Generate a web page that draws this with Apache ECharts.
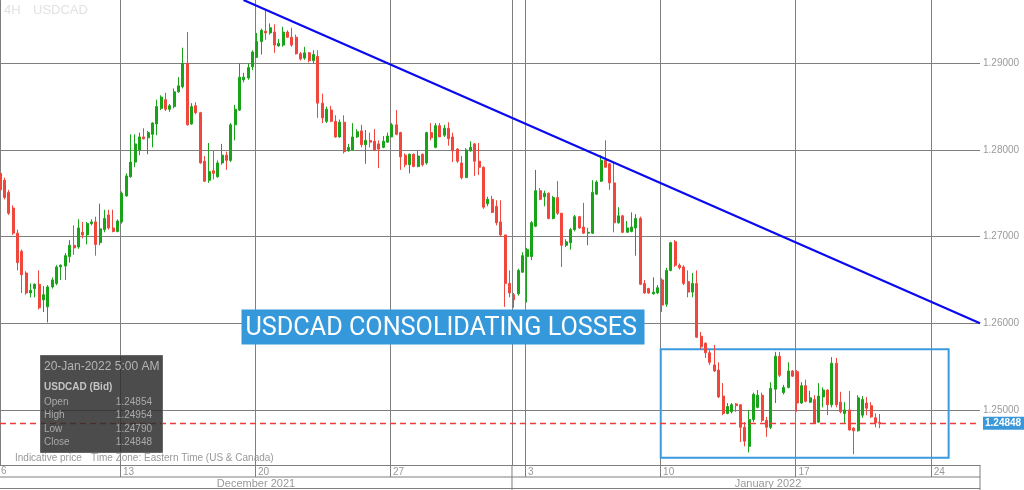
<!DOCTYPE html>
<html><head><meta charset="utf-8">
<script src="https://cdn.jsdelivr.net/npm/echarts@6/dist/echarts.min.js"></script>
<style>html,body{margin:0;padding:0;background:#fff}#c{width:1024px;height:490px}</style>
</head><body><div id="c"></div><script>
// 4H USDCAD candles (bid)
const opens = [1.2773,1.2765,1.2751,1.2733,1.2704,1.2683,1.2658,1.2635,1.2640,1.2645,
1.2627,1.2619,1.2642,1.2646,1.2665,1.2666,1.2677,1.2690,1.2688,1.2705,
1.2702,1.2715,1.2717,1.2693,1.2708,1.2725,1.2710,1.2706,1.2717,1.2747,
1.2769,1.2786,1.2800,1.2815,1.2814,1.2818,1.2830,1.2848,1.2858,1.2847,
1.2850,1.2867,1.2873,1.2900,1.2830,1.2851,1.2843,1.2787,1.2765,1.2776,
1.2769,1.2785,1.2794,1.2788,1.2829,1.2846,1.2881,1.2883,1.2896,1.2907,
1.2925,1.2937,1.2935,1.2936,1.2920,1.2921,1.2936,1.2930,1.2930,1.2911,
1.2906,1.2912,1.2903,1.2908,1.2854,1.2833,1.2846,1.2833,1.2815,1.2832,
1.2799,1.2800,1.2815,1.2822,1.2806,1.2811,1.2810,1.2807,1.2803,1.2809,
1.2815,1.2829,1.2820,1.2794,1.2783,1.2795,1.2781,1.2795,1.2785,1.2820,
1.2803,1.2828,1.2817,1.2825,1.2815,1.2801,1.2785,1.2768,1.2799,1.2807,
1.2787,1.2780,1.2738,1.2743,1.2735,1.2717,1.2702,1.2646,1.2633,1.2634,
1.2659,1.2677,1.2677,1.2712,1.2753,1.2746,1.2750,1.2721,1.2745,1.2727,
1.2690,1.2693,1.2708,1.2723,1.2711,1.2704,1.2704,1.2749,1.2764,1.2788,
1.2784,1.2762,1.2716,1.2724,1.2705,1.2706,1.2710,1.2721,1.2646,1.2640,
1.2634,1.2635,1.2650,1.2622,1.2661,1.2694,1.2667,1.2665,1.2648,1.2636,
1.2646,1.2585,1.2577,1.2566,1.2552,1.2546,1.2516,1.2496,1.2498,1.2507,
1.2506,1.2480,1.2458,1.2489,1.2503,1.2517,1.2488,1.2480,1.2524,1.2562,
1.2520,1.2526,1.2545,1.2544,1.2508,1.2528,1.2509,1.2512,1.2486,1.2515,
1.2523,1.2506,1.2554,1.2509,1.2496,1.2500,1.2479,1.2476,1.2494,1.2508,
1.2505,1.2491,1.24854];
const closes = [1.2754,1.2745,1.2727,1.2704,1.2670,1.2656,1.2635,1.2638,1.2645,1.2618,
1.2633,1.2642,1.2650,1.2665,1.2667,1.2678,1.2690,1.2687,1.2710,1.2702,
1.2715,1.2717,1.2691,1.2709,1.2721,1.2710,1.2706,1.2718,1.2750,1.2770,
1.2786,1.2807,1.2815,1.2813,1.2820,1.2831,1.2850,1.2861,1.2847,1.2851,
1.2867,1.2874,1.2900,1.2829,1.2850,1.2843,1.2785,1.2764,1.2775,1.2773,
1.2785,1.2794,1.2788,1.2829,1.2847,1.2884,1.2884,1.2895,1.2913,1.2925,
1.2938,1.2935,1.2941,1.2921,1.2923,1.2936,1.2930,1.2921,1.2911,1.2905,
1.2912,1.2903,1.2910,1.2854,1.2837,1.2847,1.2833,1.2815,1.2832,1.2798,
1.2803,1.2815,1.2821,1.2806,1.2811,1.2809,1.2800,1.2801,1.2810,1.2816,
1.2829,1.2818,1.2792,1.2783,1.2795,1.2781,1.2793,1.2783,1.2820,1.2814,
1.2828,1.2815,1.2825,1.2813,1.2799,1.2787,1.2768,1.2800,1.2803,1.2787,
1.2780,1.2734,1.2743,1.2728,1.2716,1.2702,1.2646,1.2635,1.2627,1.2661,
1.2678,1.2685,1.2716,1.2753,1.2743,1.2750,1.2721,1.2745,1.2727,1.2690,
1.2694,1.2708,1.2723,1.2710,1.2704,1.2705,1.2751,1.2763,1.2788,1.2780,
1.2762,1.2716,1.2724,1.2705,1.2710,1.2711,1.2721,1.2645,1.2635,1.2635,
1.2636,1.2641,1.2621,1.2661,1.2693,1.2667,1.2664,1.2646,1.2636,1.2646,
1.2584,1.2573,1.2566,1.2555,1.2545,1.2515,1.2496,1.2504,1.2506,1.2505,
1.2480,1.2464,1.2489,1.2518,1.2517,1.2488,1.2480,1.2525,1.2562,1.2540,
1.2526,1.2545,1.2539,1.2508,1.2528,1.2510,1.2514,1.2485,1.2516,1.2523,
1.2506,1.2554,1.2506,1.2498,1.2500,1.2477,1.2476,1.2514,1.2512,1.2502,
1.2492,1.2485,1.24848];
const lows = [1.2751,1.2743,1.2725,1.2702,1.2661,1.2635,1.2633,1.2630,1.2630,1.2616,
1.2613,1.2601,1.2640,1.2644,1.2650,1.2650,1.2670,1.2679,1.2686,1.2698,
1.2691,1.2713,1.2678,1.2690,1.2705,1.2708,1.2705,1.2705,1.2715,1.2746,
1.2768,1.2780,1.2794,1.2812,1.2795,1.2803,1.2817,1.2846,1.2845,1.2844,
1.2848,1.2866,1.2871,1.2828,1.2829,1.2841,1.2784,1.2763,1.2762,1.2766,
1.2768,1.2783,1.2777,1.2786,1.2811,1.2845,1.2878,1.2881,1.2892,1.2906,
1.2910,1.2927,1.2933,1.2912,1.2919,1.2919,1.2929,1.2919,1.2910,1.2903,
1.2904,1.2901,1.2900,1.2837,1.2831,1.2831,1.2832,1.2814,1.2814,1.2796,
1.2798,1.2799,1.2814,1.2803,1.2784,1.2803,1.2799,1.2779,1.2802,1.2808,
1.2815,1.2817,1.2777,1.2780,1.2773,1.2780,1.2780,1.2781,1.2783,1.2811,
1.2802,1.2815,1.2815,1.2805,1.2786,1.2785,1.2766,1.2768,1.2798,1.2770,
1.2771,1.2732,1.2735,1.2727,1.2713,1.2700,1.2619,1.2630,1.2618,1.2632,
1.2658,1.2624,1.2673,1.2711,1.2742,1.2735,1.2720,1.2720,1.2725,1.2665,
1.2688,1.2685,1.2706,1.2709,1.2703,1.2690,1.2703,1.2748,1.2763,1.2780,
1.2754,1.2705,1.2715,1.2704,1.2705,1.2705,1.2678,1.2644,1.2634,1.2634,
1.2633,1.2634,1.2613,1.2619,1.2660,1.2665,1.2662,1.2644,1.2630,1.2630,
1.2583,1.2570,1.2560,1.2552,1.2544,1.2514,1.2494,1.2495,1.2496,1.2498,
1.2463,1.2458,1.2451,1.2486,1.2502,1.2486,1.2469,1.2478,1.2508,1.2538,
1.2518,1.2525,1.2538,1.2498,1.2507,1.2509,1.2508,1.2484,1.2485,1.2503,
1.2494,1.2503,1.2503,1.2496,1.2485,1.2476,1.2449,1.2475,1.2491,1.2494,
1.2491,1.2480,1.24790];
const highs = [1.2777,1.2768,1.2754,1.2736,1.2708,1.2685,1.2660,1.2646,1.2646,1.2661,
1.2643,1.2644,1.2653,1.2667,1.2668,1.2681,1.2696,1.2713,1.2720,1.2717,
1.2717,1.2720,1.2723,1.2738,1.2731,1.2731,1.2731,1.2720,1.2752,1.2773,
1.2818,1.2818,1.2820,1.2825,1.2822,1.2832,1.2858,1.2863,1.2866,1.2853,
1.2871,1.2884,1.2918,1.2936,1.2854,1.2855,1.2844,1.2793,1.2808,1.2799,
1.2788,1.2807,1.2798,1.2831,1.2852,1.2900,1.2889,1.2900,1.2915,1.2935,
1.2940,1.2961,1.2946,1.2945,1.2928,1.2942,1.2938,1.2941,1.2933,1.2913,
1.2919,1.2913,1.2915,1.2915,1.2865,1.2850,1.2851,1.2840,1.2835,1.2840,
1.2807,1.2831,1.2824,1.2829,1.2823,1.2820,1.2824,1.2811,1.2816,1.2820,
1.2831,1.2846,1.2821,1.2796,1.2796,1.2796,1.2799,1.2796,1.2821,1.2831,
1.2831,1.2831,1.2829,1.2832,1.2820,1.2802,1.2793,1.2802,1.2810,1.2808,
1.2808,1.2781,1.2746,1.2747,1.2742,1.2742,1.2702,1.2661,1.2635,1.2663,
1.2682,1.2687,1.2718,1.2777,1.2756,1.2753,1.2751,1.2747,1.2764,1.2727,
1.2697,1.2710,1.2725,1.2724,1.2739,1.2710,1.2765,1.2765,1.2794,1.2811,
1.2785,1.2785,1.2734,1.2725,1.2718,1.2728,1.2726,1.2723,1.2650,1.2641,
1.2653,1.2644,1.2652,1.2664,1.2694,1.2696,1.2669,1.2667,1.2661,1.2658,
1.2661,1.2590,1.2578,1.2569,1.2575,1.2555,1.2531,1.2508,1.2508,1.2508,
1.2507,1.2486,1.2500,1.2520,1.2523,1.2520,1.2492,1.2532,1.2567,1.2567,
1.2529,1.2555,1.2546,1.2546,1.2532,1.2535,1.2522,1.2517,1.2531,1.2526,
1.2524,1.2561,1.2560,1.2521,1.2509,1.2522,1.2480,1.2517,1.2516,1.2515,
1.2509,1.2496,1.24954];

// axis ticks (x in candle slots)
const weekTickPos = [27.55, 58.55, 89.55, 120.55, 151.55, 182.65, 213.7];
const weekLabels = ['13', '20', '27', '3', '10', '17', '24'];
const firstDayLabel = '6';
const monthBoundary = 117.55;
const monthLabels = ['December 2021', 'January 2022'];
const priceTicks = [1.25, 1.26, 1.27, 1.28, 1.29];
const lastPrice = 1.24848;
const trendStart = [55.9, 1.2973];
const trendEnd = [225, 1.2600];
const boxFrom = [151.7, 1.2570];
const boxTo = [217.8, 1.24449];
const titleText = 'USDCAD CONSOLIDATING LOSSES';
const tipTime = '20-Jan-2022 5:00 AM';

const GRID = '#7f7f7f';
const UP = '#19a319';
const DOWN = '#f0463b';
const FONT = '"Liberation Sans", Arial, sans-serif';

const candleData = opens.map((o, i) => [i, o, closes[i], lows[i], highs[i]]);
const last = opens.length - 1;

const chart = echarts.init(document.getElementById('c'), null, {renderer: 'canvas'});

const option = {
  animation: false,
  backgroundColor: '#fff',
  grid: {left: 0, right: 44, top: 0, bottom: 25, containLabel: false},
  xAxis: {
    type: 'value', min: 0, max: 225,
    axisLine: {show: true, onZero: false, lineStyle: {color: GRID, width: 1}},
    axisTick: {show: true, customValues: weekTickPos, length: 12, lineStyle: {color: GRID, width: 1}},
    axisLabel: {
      show: true, customValues: weekTickPos, align: 'left', padding: [0, 0, 0, 3], margin: 2,
      fontSize: 10, color: '#999', fontFamily: FONT,
      formatter: v => {
        let best = 0;
        weekTickPos.forEach((p, i) => { if (Math.abs(p - v) < Math.abs(weekTickPos[best] - v)) best = i; });
        return weekLabels[best];
      }
    },
    splitLine: {show: true, lineStyle: {color: GRID, width: 1}}
  },
  yAxis: {
    type: 'value', position: 'right', min: 1.24365, max: 1.29730,
    axisLine: {show: true, lineStyle: {color: GRID, width: 1}},
    axisTick: {show: true, customValues: priceTicks, length: 3, lineStyle: {color: GRID}},
    axisLabel: {customValues: priceTicks, formatter: v => v.toFixed(5), color: '#9a9a9a', fontSize: 10, margin: 3, fontFamily: FONT},
    splitLine: {show: true, lineStyle: {color: GRID, width: 1}}
  },
  series: [{
    type: 'candlestick',
    data: candleData,
    barWidth: 2.5,
    itemStyle: {color: UP, color0: DOWN, borderColor: UP, borderColor0: DOWN, borderWidth: 1},
    markLine: {
      silent: true, symbol: ['none', 'none'], animation: false, precision: 6,
      data: [
        {xAxis: monthBoundary, lineStyle: {type: 'solid', color: GRID, width: 1}, label: {show: false}},
        {yAxis: lastPrice, lineStyle: {type: [6, 4], color: '#f03c3c', width: 1.3, opacity: 1},
          label: {show: true, position: 'end', distance: 3, formatter: lastPrice.toFixed(5),
            backgroundColor: '#3a98da', color: '#fff', fontSize: 10, fontWeight: 'bold',
            fontFamily: FONT, padding: [2, 3, 1, 2]}},
        [{coord: trendStart}, {coord: trendEnd, lineStyle: {type: 'solid', color: '#0a0af0', width: 2.2}, label: {show: false}}]
      ]
    },
    markArea: {
      silent: true,
      itemStyle: {color: 'rgba(0,0,0,0)', borderColor: '#3b9be0', borderWidth: 2},
      data: [[{coord: boxFrom}, {coord: boxTo}]]
    }
  }]
};
chart.setOption(option);

const mx = chart.convertToPixel({xAxisIndex: 0}, monthBoundary);
const axisX = chart.convertToPixel({xAxisIndex: 0}, 225);
const bottomY = chart.convertToPixel({yAxisIndex: 0}, 1.24365);

const tipRows = [['Open', opens[last]], ['High', highs[last]], ['Low', lows[last]], ['Close', closes[last]]];
const tipYs = [402, 415.7, 429, 442.3];

const graphic = [
  {type: 'text', x: 4, y: 10, silent: true, style: {text: '4H', fill: '#e2e2e2', font: '13px ' + FONT, verticalAlign: 'middle'}},
  {type: 'text', x: 33, y: 10, silent: true, style: {text: 'USDCAD', fill: '#e2e2e2', font: '13px ' + FONT, verticalAlign: 'middle'}},
  // bottom band
  {type: 'line', silent: true, shape: {x1: 0, y1: bottomY + 12, x2: axisX, y2: bottomY + 12}, style: {stroke: GRID, lineWidth: 1}},
  {type: 'line', silent: true, shape: {x1: 0, y1: bottomY + 23.5, x2: axisX, y2: bottomY + 23.5}, style: {stroke: GRID, lineWidth: 1}},
  {type: 'line', silent: true, shape: {x1: mx, y1: bottomY, x2: mx, y2: 490}, style: {stroke: GRID, lineWidth: 1}},
  {type: 'line', silent: true, shape: {x1: axisX, y1: bottomY, x2: axisX, y2: 490}, style: {stroke: GRID, lineWidth: 1}},
  {type: 'text', x: 1, y: bottomY + 6, silent: true, style: {text: firstDayLabel, fill: '#999', font: '10px ' + FONT, verticalAlign: 'middle'}},
  {type: 'text', x: mx / 2, y: bottomY + 19, silent: true, style: {text: monthLabels[0], fill: '#999', font: '11px ' + FONT, align: 'center', verticalAlign: 'middle'}},
  {type: 'text', x: (mx + 1024) / 2, y: bottomY + 19, silent: true, style: {text: monthLabels[1], fill: '#999', font: '11px ' + FONT, align: 'center', verticalAlign: 'middle'}},
  {type: 'text', x: 15, y: 458, silent: true, style: {text: 'Indicative price', fill: '#999', font: '10px ' + FONT, verticalAlign: 'middle'}},
  {type: 'text', x: 91, y: 458, silent: true, style: {text: 'Time Zone: Eastern Time (US & Canada)', fill: '#999', font: '10px ' + FONT, verticalAlign: 'middle'}},
  // title box
  {type: 'rect', z: 100, silent: true, shape: {x: 241.5, y: 309.5, width: 403, height: 35}, style: {fill: '#3498db'}},
  {type: 'text', z: 101, silent: true, x: 245.5, y: 329, style: {text: titleText, fill: '#fff', font: '25.2px Roboto', verticalAlign: 'middle'}},
  // info box
  {type: 'rect', z: 100, silent: true, shape: {x: 40.5, y: 355.5, width: 122, height: 97}, style: {fill: 'rgba(45,45,45,0.85)', stroke: '#666', lineWidth: 1}},
  {type: 'text', z: 101, silent: true, x: 44, y: 367, style: {text: tipTime, fill: '#b4b4b4', font: '12px ' + FONT, verticalAlign: 'middle'}},
  {type: 'text', z: 101, silent: true, x: 44, y: 387, style: {text: 'USDCAD (Bid)', fill: '#c4c4c4', font: 'bold 10px ' + FONT, verticalAlign: 'middle'}}
];
tipRows.forEach((r, i) => {
  graphic.push({type: 'text', z: 101, silent: true, x: 44, y: tipYs[i], style: {text: r[0], fill: '#aaa', font: '10px ' + FONT, verticalAlign: 'middle'}});
  graphic.push({type: 'text', z: 101, silent: true, x: 152, y: tipYs[i], style: {text: r[1].toFixed(5), fill: '#aaa', font: '10px ' + FONT, align: 'right', verticalAlign: 'middle'}});
});
chart.setOption({graphic: graphic});
</script></body></html>
